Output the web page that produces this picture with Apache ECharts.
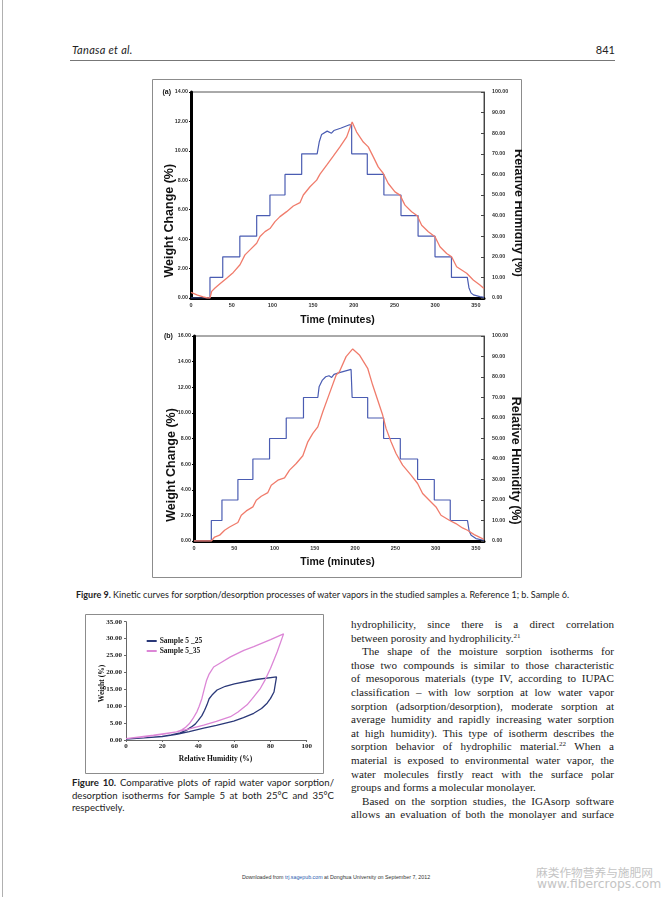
<!DOCTYPE html>
<html><head><meta charset="utf-8">
<script src="https://cdn.jsdelivr.net/npm/echarts@6/dist/echarts.min.js"></script>
<style>
html,body{margin:0;padding:0;background:#fff;}
#page{position:relative;width:672px;height:897px;overflow:hidden;background:#fff;}
.abs{position:absolute;}
#edge{left:2px;top:0;width:1px;height:897px;background:#b0b0b0;}
#hdrL{left:72px;top:43px;font:italic 11px Lato,sans-serif;letter-spacing:0.3px;color:#222;}
#hdrR{left:560px;width:55px;top:43px;text-align:right;font:11px Lato,sans-serif;color:#222;}
#rule{left:70px;top:60px;width:545px;height:1px;background:#777;}
#fig9{left:152px;top:79px;width:370px;height:499px;}
#fig10{left:85px;top:614px;width:239px;height:160px;}
#cap9{left:76px;top:589px;font:9px Lato,sans-serif;color:#222;white-space:nowrap;}
#cap10{left:72px;width:262px;top:777px;font:9.6px Lato,sans-serif;color:#222;line-height:12.6px;}
#body{left:351px;width:263px;top:618px;font:11.1px "Liberation Serif",serif;color:#1a1a1a;line-height:13.6px;}
.j{text-align:justify;text-align-last:justify;white-space:nowrap;}
.l{text-align:left;white-space:nowrap;}
.ind{padding-left:11px;}
sup{font-size:7px;line-height:0;vertical-align:4px;}
b{font-weight:bold;}
#foot{left:136px;width:400px;top:871px;text-align:center;font:10.6px "Liberation Sans",Arial,sans-serif;color:#333;transform:scale(0.5);transform-origin:50% 50%;white-space:nowrap;}
#foot span{color:#2a5db0;}
#wm1{left:536px;top:863px;font:11.7px "Noto Sans CJK SC",sans-serif;color:#c4c4c4;white-space:nowrap;}
#wm2{left:537px;top:877px;font:12.3px "DejaVu Sans",sans-serif;color:#c4c4c4;white-space:nowrap;}
</style></head>
<body><div id="page">
<div class="abs" id="edge"></div>
<div class="abs" id="hdrL">Tanasa et al.</div>
<div class="abs" id="hdrR">841</div>
<div class="abs" id="rule"></div>
<div class="abs" id="fig9"></div>
<div class="abs" id="cap9"><b>Figure 9.</b> Kinetic curves for sorption/desorption processes of water vapors in the studied samples a. Reference 1; b. Sample 6.</div>
<div class="abs" id="fig10"></div>
<div class="abs" id="cap10"><div class="j"><b>Figure 10.</b> Comparative plots of rapid water vapor sorption/</div><div class="j">desorption isotherms for Sample 5 at both 25°C and 35°C</div><div class="l">respectively.</div></div>
<div class="abs" id="body">
<div class="j">hydrophilicity, since there is a direct correlation</div>
<div class="l">between porosity and hydrophilicity.<sup>21</sup></div>
<div class="j ind">The shape of the moisture sorption isotherms for</div>
<div class="j">those two compounds is similar to those characteristic</div>
<div class="j">of mesoporous materials (type IV, according to IUPAC</div>
<div class="j">classification – with low sorption at low water vapor</div>
<div class="j">sorption (adsorption/desorption), moderate sorption at</div>
<div class="j">average humidity and rapidly increasing water sorption</div>
<div class="j">at high humidity). This type of isotherm describes the</div>
<div class="j">sorption behavior of hydrophilic material.<sup>22</sup> When a</div>
<div class="j">material is exposed to environmental water vapor, the</div>
<div class="j">water molecules firstly react with the surface polar</div>
<div class="l">groups and forms a molecular monolayer.</div>
<div class="j ind">Based on the sorption studies, the IGAsorp software</div>
<div class="j">allows an evaluation of both the monolayer and surface</div>
</div>
<div class="abs" id="foot">Downloaded from <span>trj.sagepub.com</span> at Donghua University on September 7, 2012</div>
<div class="abs" id="wm1">麻类作物营养与施肥网</div>
<div class="abs" id="wm2">www.fibercrops.com</div>
</div>
<script>
// ---------- Figure 9 (a): Reference 1 ----------
const timeA_rh = [0,23.3,23.3,39,39,60,60,80.7,80.7,97,97,115.5,115.5,136,136,155,157.7,160.5,167.3,172.6,175.5,183.7,194,195.5,197.4,197.4,216.6,216.6,237,237,258,258,279,279,299.8,299.8,320,320,339.5,341.5,344,347,355,360];
const rhA      = [0,0,10,10,20,20,30,30,40,40,50,50,60,60,70,70,76,79.4,81,80,81.3,82.4,84,84,84,70,70,60,60,50,50,40,40,30,30,20,20,10,10,5,2.5,1.5,0.7,0.3];
const timeA_wt = [0,8,15,20,23.3,25.4,29.5,35.6,43.8,52,60.2,66.3,72.5,80.7,84.8,90.9,97,103.2,109.3,117.5,125.7,133.9,138,146.2,154.4,158.5,166.7,174.8,183,191.3,196,198,203.5,211.7,217.8,224,230,236.3,242.4,250.6,256.8,262.9,271.1,278,283.4,291.6,299.8,305.9,314.1,320.2,326.4,338.7,346.8,355,360];
const wtA      = [0.38,0.2,0.07,0,0,0.45,0.68,0.97,1.35,1.74,2.26,2.93,3.27,3.72,4.18,4.51,4.72,5.19,5.53,5.87,6.25,6.48,7.0,7.56,8.01,8.42,9.03,9.64,10.27,10.95,11.67,11.96,11.28,10.6,10.27,9.59,8.91,8.46,7.78,7.21,6.99,6.31,5.86,5.59,4.95,4.5,4.16,3.48,3.03,2.8,2.12,1.68,1.22,0.88,0.65];
// ---------- Figure 9 (b): Sample 6 ----------
const timeB_rh = [0,21.5,21.5,34.7,34.7,54.5,54.5,73.1,73.1,93.8,93.8,114.5,114.5,135.9,135.9,153.7,155.3,159.4,163.5,167.6,170.9,173.8,180.5,195,196.3,196.3,215.6,215.6,235.4,235.4,256.1,256.1,277.6,277.6,298.3,298.3,318.1,318.1,339.5,341.5,344,350,358,360];
const rhB      = [0,0,10,10,20,20,30,30,40,40,50,50,60,60,70,70,75.2,78.5,80.1,80.6,79.8,81.3,82.1,83.7,83.7,70,70,60,60,50,50,40,40,30,30,20,20,10,10,5,2.8,1.2,0.5,0.4];
const timeB_wt = [0,21.5,25.6,31.8,38,44.2,54.5,58.7,64.9,73.1,77.3,83.5,91.7,95.9,104.1,112.4,118.6,126.9,135.1,141.3,147.5,153.7,159.9,168.2,176.5,180.5,188.8,197,205.3,215.6,221.8,228,234.2,238.4,244.6,250.8,259,269.4,277.6,283.8,294.2,300.4,306.6,316.9,325.1,333.3,339.5,347.8,358.1,360];
const wtB      = [0,0,0.31,0.45,0.84,1.09,1.44,2.01,2.35,2.66,3.18,3.49,3.78,4.35,4.75,4.93,5.53,6.05,6.65,7.74,8.4,8.91,10.09,11.52,12.96,13.21,14.39,14.99,14.52,13.48,12.17,11.0,9.83,8.79,7.74,6.83,5.92,5.14,4.49,3.71,3.05,2.66,2.01,1.62,1.36,1.02,0.84,0.5,0.19,0.15];
// ---------- Figure 10: Sample 5 isotherms ----------
const rh25 = [0,10,20,28,35,43,50,59.6,65,70.7,75,78.1,80,81.9,83.3,72,60,55,50.4,47.6,46,44.8,43.5,42,40,38.3,36,33.7,30,25,20,10,0];
const wt25 = [0.3,0.6,1.0,1.7,2.5,3.5,4.3,5.6,6.6,7.9,9.3,10.9,12.3,14.2,18.7,17.9,16.6,15.9,14.8,13.3,12.2,10.4,8.8,7.2,5.8,4.7,3.8,3.0,2.1,1.5,1.1,0.6,0.3];
const rh35 = [0,15.2,28,35,43,50,57.8,62,67,70,74.4,77,80,83.7,87.2,80,70.7,65.2,57.8,52.2,48.5,46,44.5,43.5,42,40.5,39.3,37,35,33,30.9,28,20,10,0];
const wt35 = [0.4,1.4,2.4,3.3,4.4,5.5,6.9,8.3,10.4,12.3,15.3,17.8,21.2,26.1,31.4,29.7,27.6,26.5,24.6,22.8,21.6,19.5,17.5,15.5,12.3,10,8.4,6.3,4.8,3.8,3.0,2.4,1.7,0.9,0.4];
const seriesNames10 = ['Sample 5 _25','Sample 5_35'];

const zip = (a,b) => a.map((v,i)=>[v,b[i]]);
const SANS = '"Liberation Sans", Arial, sans-serif';
const SERIF = '"Liberation Serif", "Times New Roman", serif';
const f2 = v => v.toFixed(2);

function xAx(gi){
  return {type:'value', gridIndex:gi, min:0, max:360, interval:50,
    axisLine:{show:true,onZero:false,lineStyle:{color:'#000',width:3}},
    axisTick:{show:true,length:2,lineStyle:{color:'#000',width:1}},
    axisLabel:{fontSize:5.5,fontFamily:SANS,fontWeight:'bold',color:'#333',margin:4,showMaxLabel:false},
    splitLine:{show:false}};
}
function yL(gi,max){
  return {type:'value', gridIndex:gi, position:'left', min:0, max:max, interval:2,
    axisLine:{show:true,onZero:false,lineStyle:{color:'#000',width:3}},
    axisTick:{show:true,length:2,lineStyle:{color:'#000'}},
    axisLabel:{fontSize:5.3,fontFamily:SANS,fontWeight:'bold',color:'#333',margin:3,formatter:f2},
    splitLine:{show:false}};
}
function yR(gi){
  return {type:'value', gridIndex:gi, position:'right', min:0, max:100, interval:10,
    axisLine:{show:true,onZero:false,lineStyle:{color:'#444',width:1}},
    axisTick:{show:true,inside:true,length:3,lineStyle:{color:'#444'}},
    axisLabel:{fontSize:5.3,fontFamily:SANS,fontWeight:'bold',color:'#333',margin:8,formatter:f2},
    splitLine:{show:false}};
}
function txt(x,y,text,font,rot,align){
  return {type:'text', x:x, y:y, rotation:rot||0, silent:true,
    style:{text:text, font:font, fill:'#111', align:align||'center', verticalAlign:'middle', textAlign:align||'center', textVerticalAlign:'middle'}};
}
const BLUE='#4a5cb2', RED='#f07c6c';
const c9 = echarts.init(document.getElementById('fig9'));
c9.setOption({
  animation:false, backgroundColor:'#fff',
  grid:[
    {left:39, top:13, width:293, height:206, show:true, borderColor:'#555', borderWidth:1},
    {left:42, top:257, width:290, height:205, show:true, borderColor:'#555', borderWidth:1}
  ],
  xAxis:[xAx(0), xAx(1)],
  yAxis:[yL(0,14), yR(0), yL(1,16), yR(1)],
  series:[
    {type:'line', xAxisIndex:0, yAxisIndex:1, data:zip(timeA_rh,rhA), showSymbol:false, lineStyle:{color:BLUE,width:1.2}, z:3},
    {type:'line', xAxisIndex:0, yAxisIndex:0, data:zip(timeA_wt,wtA), showSymbol:false, lineStyle:{color:RED,width:1.3}, z:4},
    {type:'line', xAxisIndex:1, yAxisIndex:3, data:zip(timeB_rh,rhB), showSymbol:false, lineStyle:{color:BLUE,width:1.2}, z:3},
    {type:'line', xAxisIndex:1, yAxisIndex:2, data:zip(timeB_wt,wtB), showSymbol:false, lineStyle:{color:RED,width:1.3}, z:4}
  ],
  graphic:[
    {type:'rect', shape:{x:0.5,y:0.5,width:369,height:498}, style:{fill:null, stroke:'#8c8c8c', lineWidth:1}, silent:true},
    txt(10.5,12.7,'(a)','bold 7px '+SANS,0,'left'),
    txt(12,257,'(b)','bold 7px '+SANS,0,'left'),
    txt(18,141.7,'Weight Change (%)','bold 12.5px '+SANS,Math.PI/2),
    txt(19.7,386,'Weight Change (%)','bold 12.5px '+SANS,Math.PI/2),
    txt(366,134,'Relative Humidity (%)','bold 12.5px '+SANS,-Math.PI/2),
    txt(363,381.7,'Relative Humidity (%)','bold 12.5px '+SANS,-Math.PI/2),
    txt(185.5,241,'Time (minutes)','bold 10.5px '+SANS,0),
    txt(185.5,483.3,'Time (minutes)','bold 10.5px '+SANS,0)
  ]
});

const NAVY='#2a3878', PINK='#dc86d6';
const c10 = echarts.init(document.getElementById('fig10'));
const lab10 = {fontSize:7,fontFamily:SERIF,fontWeight:'bold',color:'#222'};
c10.setOption({
  animation:false, backgroundColor:'#fff',
  grid:{left:41, top:7.7, width:180.7, height:118.3},
  legend:{data:seriesNames10, orient:'vertical', left:56.7, top:18, itemWidth:10, itemHeight:2, itemGap:2, icon:'rect',
    textStyle:{fontSize:7.5,fontFamily:SERIF,fontWeight:'bold',color:'#222',padding:[0,0,0,-2]}},
  xAxis:{type:'value', min:0, max:100, interval:20,
    axisLine:{onZero:false,lineStyle:{color:'#666',width:1}}, axisTick:{show:true,length:2,lineStyle:{color:'#666'}},
    axisLabel:Object.assign({margin:3},lab10), splitLine:{show:false}},
  yAxis:{type:'value', min:0, max:35, interval:5,
    axisLine:{show:true,onZero:false,lineStyle:{color:'#666',width:1}}, axisTick:{show:true,length:2,lineStyle:{color:'#666'}},
    axisLabel:Object.assign({margin:4,formatter:f2},lab10), splitLine:{show:false}},
  series:[
    {name:seriesNames10[0], type:'line', data:zip(rh25,wt25), showSymbol:false, lineStyle:{color:NAVY,width:1.3}, itemStyle:{color:NAVY}},
    {name:seriesNames10[1], type:'line', data:zip(rh35,wt35), showSymbol:false, lineStyle:{color:PINK,width:1.3}, itemStyle:{color:PINK}}
  ],
  graphic:[
    {type:'rect', shape:{x:0.5,y:0.5,width:238,height:159}, style:{fill:null, stroke:'#8c8c8c', lineWidth:1}, silent:true},
    txt(130.5,145,'Relative Humidity (%)','bold 7.5px '+SERIF,0),
    txt(17,69.5,'Weight (%)','bold 7.5px '+SERIF,Math.PI/2)
  ]
});
</script>
</body></html>
